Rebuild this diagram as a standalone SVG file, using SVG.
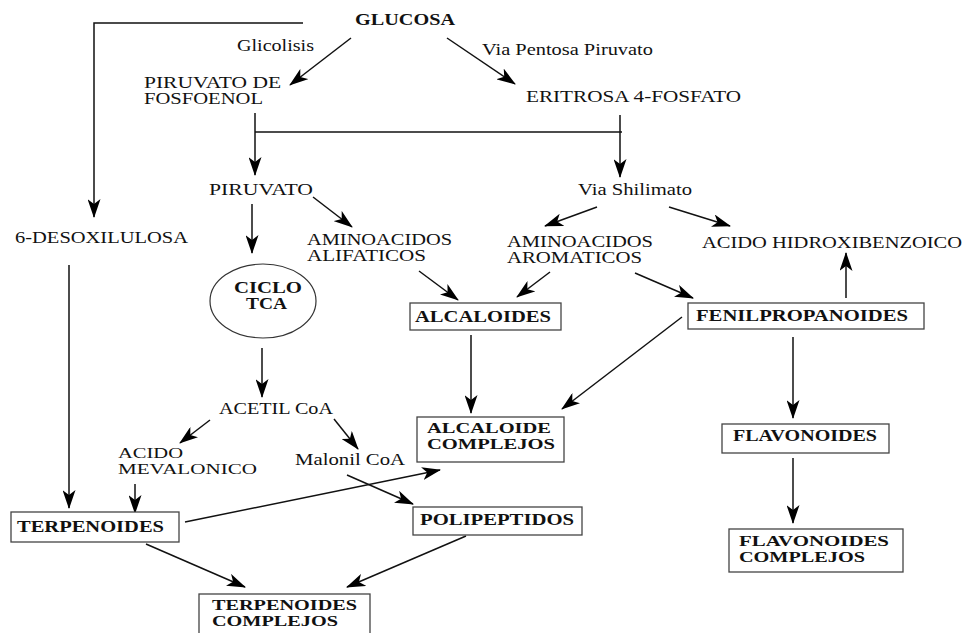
<svg xmlns="http://www.w3.org/2000/svg" width="964" height="633" viewBox="0 0 964 633">
<defs>
<marker id="ah" viewBox="0 0 19 13" refX="18" refY="6.5" markerWidth="19" markerHeight="13" orient="auto" markerUnits="userSpaceOnUse">
<path d="M0,0 L19,6.5 L0,13 L5,6.5 z" fill="#000"/>
</marker>
<style>
text{font-family:"Liberation Serif","Times New Roman",serif;font-size:16px;fill:#111;}
.b{font-weight:bold;}
.s{font-size:15px;}
.box{fill:#fff;stroke:#444;stroke-width:1.3;}
.c line,.c polyline{stroke:#111;stroke-width:1.5;fill:none;}
.a{marker-end:url(#ah);}
</style>
</defs>
<rect width="964" height="633" fill="#fff"/>
<g class="c" id="connectors">
<polyline class="a" points="303,23 94,23 94,217"/>
<line class="a" x1="351" y1="38" x2="290" y2="85"/>
<line class="a" x1="447" y1="38" x2="515" y2="84"/>
<line class="a" x1="255" y1="113" x2="255" y2="175"/>
<line x1="255" y1="132" x2="622" y2="132"/>
<line class="a" x1="620" y1="115" x2="620" y2="177"/>
<line class="a" x1="252" y1="204" x2="252" y2="253"/>
<line class="a" x1="313" y1="197" x2="352" y2="227"/>
<line class="a" x1="597" y1="207" x2="545" y2="226"/>
<line class="a" x1="669" y1="207" x2="730" y2="226"/>
<line class="a" x1="69" y1="265" x2="69" y2="508"/>
<line class="a" x1="419" y1="271" x2="458" y2="300"/>
<line class="a" x1="262" y1="348" x2="262" y2="397"/>
<line class="a" x1="550" y1="272" x2="517" y2="297"/>
<line class="a" x1="635" y1="273" x2="693" y2="298"/>
<line class="a" x1="846" y1="298" x2="846" y2="253"/>
<line class="a" x1="471" y1="335" x2="471" y2="413"/>
<line class="a" x1="682" y1="317" x2="562" y2="409"/>
<line class="a" x1="793" y1="337" x2="793" y2="418"/>
<line class="a" x1="210" y1="420" x2="180" y2="443"/>
<line class="a" x1="334" y1="419" x2="358" y2="449"/>
<line class="a" x1="135" y1="484" x2="135" y2="513"/>
<line class="a" x1="185" y1="522" x2="440" y2="470"/>
<line class="a" x1="347" y1="475" x2="413" y2="504"/>
<line class="a" x1="146" y1="544" x2="245" y2="587"/>
<line class="a" x1="466" y1="536" x2="347" y2="587"/>
<line class="a" x1="793" y1="458" x2="793" y2="523"/>
</g>
<g id="glucosa"><text class="b" x="355" y="25" textLength="100" lengthAdjust="spacingAndGlyphs" style="font-size:17px">GLUCOSA</text></g>
<g id="glicolisis"><text x="237" y="51" textLength="77" lengthAdjust="spacingAndGlyphs">Glicolisis</text></g>
<g id="viapentosa"><text x="482" y="55" textLength="171" lengthAdjust="spacingAndGlyphs">Via Pentosa Piruvato</text></g>
<g id="pep"><text x="144" y="88" textLength="137" lengthAdjust="spacingAndGlyphs">PIRUVATO DE</text><text x="144" y="104" textLength="119" lengthAdjust="spacingAndGlyphs">FOSFOENOL</text></g>
<g id="eritrosa"><text x="526" y="102" textLength="215" lengthAdjust="spacingAndGlyphs">ERITROSA 4-FOSFATO</text></g>
<g id="piruvato"><text x="209" y="195" textLength="104" lengthAdjust="spacingAndGlyphs">PIRUVATO</text></g>
<g id="shilimato"><text x="578" y="195" textLength="114" lengthAdjust="spacingAndGlyphs">Via Shilimato</text></g>
<g id="desox"><text x="15" y="243" textLength="173" lengthAdjust="spacingAndGlyphs">6-DESOXILULOSA</text></g>
<g id="alifaticos"><text x="307" y="245" textLength="145" lengthAdjust="spacingAndGlyphs">AMINOACIDOS</text><text x="307" y="261" textLength="119" lengthAdjust="spacingAndGlyphs">ALIFATICOS</text></g>
<g id="aromaticos"><text x="507" y="247" textLength="146" lengthAdjust="spacingAndGlyphs">AMINOACIDOS</text><text x="507" y="263" textLength="135" lengthAdjust="spacingAndGlyphs">AROMATICOS</text></g>
<g id="hidroxi"><text x="702" y="248" textLength="260" lengthAdjust="spacingAndGlyphs">ACIDO HIDROXIBENZOICO</text></g>
<g id="ciclo"><ellipse cx="263" cy="301" rx="53" ry="37" fill="none" stroke="#333" stroke-width="1.2"/><text class="b" x="234" y="293" textLength="68" lengthAdjust="spacingAndGlyphs">CICLO</text><text class="b" x="246" y="309" textLength="41" lengthAdjust="spacingAndGlyphs">TCA</text></g>
<g id="alcaloides"><rect class="box" x="410" y="303" width="151" height="27"/><text class="b" x="415" y="322" textLength="136" lengthAdjust="spacingAndGlyphs">ALCALOIDES</text></g>
<g id="fenil"><rect class="box" x="688" y="303" width="236" height="26"/><text class="b" x="696" y="321" textLength="212" lengthAdjust="spacingAndGlyphs">FENILPROPANOIDES</text></g>
<g id="acetil"><text x="219" y="414" textLength="114" lengthAdjust="spacingAndGlyphs">ACETIL CoA</text></g>
<g id="alccomplejos"><rect class="box" x="417" y="417" width="147" height="45"/><text class="b s" x="427" y="433" textLength="124" lengthAdjust="spacingAndGlyphs">ALCALOIDE</text><text class="b s" x="427" y="449" textLength="128" lengthAdjust="spacingAndGlyphs">COMPLEJOS</text></g>
<g id="flavonoides"><rect class="box" x="722" y="424" width="167" height="29"/><text class="b" x="733" y="441" textLength="144" lengthAdjust="spacingAndGlyphs">FLAVONOIDES</text></g>
<g id="mevalonico"><text class="s" x="118" y="458" textLength="65" lengthAdjust="spacingAndGlyphs">ACIDO</text><text class="s" x="118" y="474" textLength="139" lengthAdjust="spacingAndGlyphs">MEVALONICO</text></g>
<g id="malonil"><text x="295" y="465" textLength="110" lengthAdjust="spacingAndGlyphs">Malonil CoA</text></g>
<g id="terpenoides"><rect class="box" x="11" y="512" width="168" height="30"/><text class="b" x="17" y="532" textLength="147" lengthAdjust="spacingAndGlyphs">TERPENOIDES</text></g>
<g id="polipeptidos"><rect class="box" x="413" y="507" width="169" height="28"/><text class="b" x="420" y="525" textLength="154" lengthAdjust="spacingAndGlyphs">POLIPEPTIDOS</text></g>
<g id="flavcomplejos"><rect class="box" x="729" y="529" width="174" height="43"/><text class="b s" x="739" y="546" textLength="150" lengthAdjust="spacingAndGlyphs">FLAVONOIDES</text><text class="b s" x="739" y="562" textLength="126" lengthAdjust="spacingAndGlyphs">COMPLEJOS</text></g>
<g id="terpcomplejos"><rect class="box" x="199" y="594" width="171" height="50"/><text class="b s" x="212" y="610" textLength="145" lengthAdjust="spacingAndGlyphs">TERPENOIDES</text><text class="b s" x="212" y="626" textLength="126" lengthAdjust="spacingAndGlyphs">COMPLEJOS</text></g>
</svg>
